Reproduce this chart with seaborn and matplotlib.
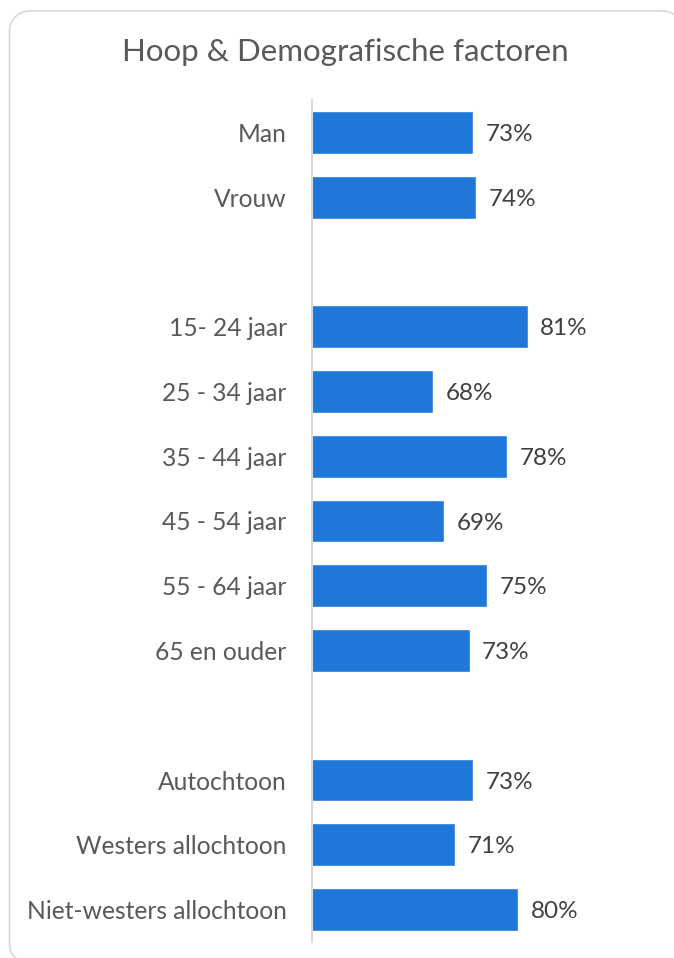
import matplotlib
matplotlib.use("Agg")
import matplotlib.pyplot as plt
import matplotlib.patches as mpatches
import seaborn as sns
import pandas as pd

categories = ["Man", "Vrouw",
              "15- 24 jaar", "25 - 34 jaar", "35 - 44 jaar", "45 - 54 jaar",
              "55 - 64 jaar", "65 en ouder",
              "Autochtoon", "Westers allochtoon", "Niet-westers allochtoon"]
values = [73.4, 73.8, 81.3, 67.6, 78.3, 69.2, 75.4, 72.9, 73.4, 70.8, 79.9]
order = ["Man", "Vrouw", " ",
         "15- 24 jaar", "25 - 34 jaar", "35 - 44 jaar", "45 - 54 jaar",
         "55 - 64 jaar", "65 en ouder", "  ",
         "Autochtoon", "Westers allochtoon", "Niet-westers allochtoon"]
title = "Hoop & Demografische factoren"

sns.set_theme(style="white")
plt.rcParams["font.family"] = ["Lato", "DejaVu Sans"]

W, H = 674, 958
fig = plt.figure(figsize=(W / 100, H / 100), dpi=100)
fig.patch.set_facecolor("white")

# rounded frame drawn as a plain path in pixel units (y measured from top)
left_f, right_f, top_f, bottom_f, r = 9.5, 683, 11, 964, 20
from matplotlib.path import Path
import numpy as np
def corner(cx, cy, a0, a1, n=12):
    t = np.linspace(np.radians(a0), np.radians(a1), n)
    return [(cx + r * np.cos(tt), cy - r * np.sin(tt)) for tt in t]
pts = []
pts += corner(left_f + r, top_f + r, 180, 90)
pts += corner(right_f - r, top_f + r, 90, 0)
pts += corner(right_f - r, bottom_f - r, 0, -90)
pts += corner(left_f + r, bottom_f - r, -90, -180)
pts.append(pts[0])
pts = [(x / W, 1 - y / H) for x, y in pts]
frame = mpatches.PathPatch(Path(pts), transform=fig.transFigure,
                           facecolor="none", edgecolor="#D9D9D9",
                           linewidth=1.2, zorder=-1)
fig.patches.append(frame)

left_px, top_px, bottom_px = 311.7, 100, 942
xmin, xmax = 50, 90
px_per = 6.9
ax = fig.add_axes([left_px / W, 1 - bottom_px / H,
                   (xmax - xmin) * px_per / W, (bottom_px - top_px) / H])
ax.patch.set_alpha(0)

df = pd.DataFrame({"cat": categories, "val": values})
sns.barplot(data=df, y="cat", x="val", order=order, color="#1F77D8",
            width=0.66, orient="h", ax=ax, saturation=1)

ax.set_xlim(xmin, xmax)
ax.set_ylim(len(order) - 0.5, -0.5)
ax.set_xlabel("")
ax.set_ylabel("")
ax.set_xticks([])
for s in ["top", "right", "bottom"]:
    ax.spines[s].set_visible(False)
ax.spines["left"].set_color("#D9D9D9")
ax.spines["left"].set_linewidth(1.5)
ax.tick_params(axis="y", length=0, pad=18, labelsize=17.7, labelcolor="#595959")

for c, v in zip(categories, values):
    y = order.index(c)
    ax.annotate(f"{v:.0f}%", xy=(v, y), xytext=(9, -1.5), textcoords="offset points",
                ha="left", va="center", fontsize=17.5, color="#404040")

fig.text(0.513, 1 - 52 / H, title, ha="center", va="center",
         fontsize=22.5, color="#595959")

fig.savefig("out.png", dpi=100)
